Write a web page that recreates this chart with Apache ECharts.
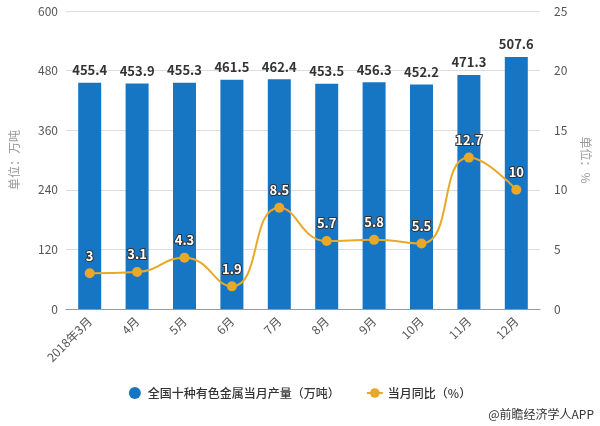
<!DOCTYPE html>
<html><head><meta charset="utf-8">
<script src="https://cdn.jsdelivr.net/npm/echarts@6/dist/echarts.min.js"></script>
<style>html,body{margin:0;padding:0;background:#fff}#c{width:600px;height:426px}</style>
</head><body><div id="c"></div>
<script>
const categories = ['2018年3月','4月','5月','6月','7月','8月','9月','10月','11月','12月'];
const output = [455.4,453.9,455.3,461.5,462.4,453.5,456.3,452.2,471.3,507.6];
const yoy = [3,3.1,4.3,1.9,8.5,5.7,5.8,5.5,12.7,10];
const leftTicks = [0,120,240,360,480,600];
const rightTicks = [0,5,10,15,20,25];
const seriesNames = ['全国十种有色金属当月产量（万吨）','当月同比（%）'];

const font = '"Microsoft YaHei","Noto Sans CJK SC",sans-serif';
const chart = echarts.init(document.getElementById('c'));
chart.setOption({
  animation:false,
  textStyle:{fontFamily:font},
  grid:{left:63,right:56,top:11,bottom:117},
  legend:{
    bottom:22,left:'center',itemGap:26,itemWidth:16,itemHeight:12,
    textStyle:{color:'#333',fontSize:12,fontFamily:font,fontWeight:500},
    data:[{name:seriesNames[0],icon:'circle'},{name:seriesNames[1]}]
  },
  graphic:[{type:'text',right:6,bottom:6,style:{text:'@前瞻经济学人APP',fill:'#333',font:'12px '+font}}],
  xAxis:{
    type:'category',data:categories,
    axisLine:{lineStyle:{color:'#999'}},
    axisTick:{alignWithLabel:true,lineStyle:{color:'#999'}},
    axisLabel:{rotate:45,color:'#555',fontSize:12,interval:0,margin:10}
  },
  yAxis:[{
    type:'value',min:leftTicks[0],max:leftTicks[leftTicks.length-1],interval:120,
    name:'单位：万吨',nameLocation:'middle',nameGap:46,
    nameTextStyle:{color:'#999',fontSize:12},
    axisLine:{show:false},axisTick:{show:false},
    axisLabel:{color:'#555',fontSize:12},
    splitLine:{lineStyle:{color:'#ddd'}}
  },{
    type:'value',min:rightTicks[0],max:rightTicks[rightTicks.length-1],interval:5,
    name:'单位：%',nameLocation:'middle',nameGap:40,nameRotate:-90,
    nameTextStyle:{color:'#999',fontSize:12},
    axisLine:{show:false},axisTick:{show:false},
    axisLabel:{color:'#555',fontSize:12,margin:14},
    splitLine:{show:false}
  }],
  series:[{
    name:seriesNames[0],type:'bar',data:output,barWidth:23,
    itemStyle:{color:'#1776C4'},
    label:{show:true,position:'top',color:'#333',fontWeight:'bold',fontSize:13,distance:6}
  },{
    name:seriesNames[1],type:'line',yAxisIndex:1,data:yoy,smooth:true,
    symbol:'circle',symbolSize:10,
    lineStyle:{color:'#E8A929',width:2},
    itemStyle:{color:'#E8A929'},
    label:{show:true,position:'top',color:'#fff',fontWeight:'bold',fontSize:13,
      textBorderColor:'#333',textBorderWidth:2,distance:6}
  }]
});
</script></body></html>
